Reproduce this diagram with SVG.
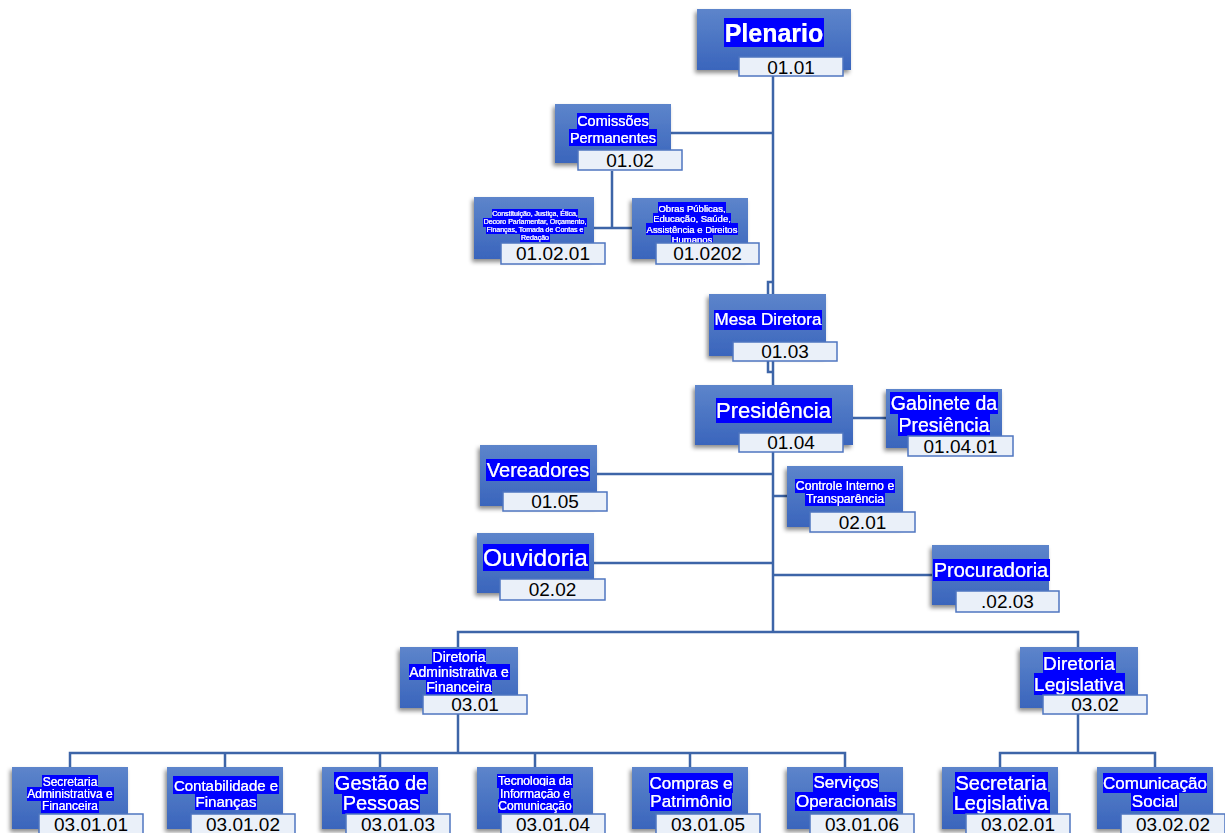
<svg xmlns="http://www.w3.org/2000/svg" width="1225" height="833" viewBox="0 0 1225 833">
<defs>
<linearGradient id="g" x1="0" y1="0" x2="0" y2="1">
<stop offset="0" stop-color="#5d85cb"/>
<stop offset="1" stop-color="#3a65bc"/>
</linearGradient>
<filter id="sh" x="-20%" y="-20%" width="140%" height="150%">
<feDropShadow dx="-2" dy="3" stdDeviation="2" flood-color="#000" flood-opacity="0.45"/>
</filter>
<filter id="hl" x="0" y="0" width="1" height="1">
<feFlood flood-color="#0000ff" result="bg"/>
<feMerge><feMergeNode in="bg"/><feMergeNode in="SourceGraphic"/></feMerge>
</filter>
</defs>
<style>
.box{fill:url(#g);filter:url(#sh)}
.lbl{fill:#eaf0f9;stroke:#4f76c0;stroke-width:1.5}
.t{fill:#fff;font-family:"Liberation Sans",Arial,sans-serif;text-anchor:middle;filter:url(#hl)}
.n{fill:#000;font-family:"Liberation Sans",Arial,sans-serif;font-size:19px;text-anchor:middle}
.c{fill:none;stroke:#3d65a8;stroke-width:2.5}
</style>
<rect width="1225" height="833" fill="#fff"/>
<g id="connectors" class="c">
<path d="M773,76 V294"/>
<path d="M773,282 H768 V294"/>
<path d="M671,133 H773"/>
<path d="M612,171 V228 M594,228 H632"/>
<path d="M773,361 V385"/>
<path d="M768,361 V372 H773"/>
<path d="M853,418 H886"/>
<path d="M773,452 V632"/>
<path d="M597,474 H773"/>
<path d="M773,496 H787"/>
<path d="M594,563 H773"/>
<path d="M773,575 H932"/>
<path d="M458,647 V632 H1078 V647"/>
<path d="M458,714 V753"/>
<path d="M70,767 V753 H845 V767 M225,753 V767 M380,753 V767 M535,753 V767 M690,753 V767"/>
<path d="M1078,714 V753 M1000,767 V753 H1155 V767"/>
</g>
<g id="n-plenario">
<rect class="box" x="697" y="9" width="154" height="61"/>
<text class="t" x="774" y="41.5" font-size="25" font-weight="bold">Plenario</text>
<rect class="lbl" x="739" y="57" width="104" height="19"/>
<text class="n" x="791" y="74">01.01</text>
</g>
<g id="n-comissoes">
<rect class="box" x="555" y="104" width="116" height="59"/>
<text class="t" x="613" y="126" font-size="14.5">Comissões</text>
<text class="t" x="613" y="142.5" font-size="14.5">Permanentes</text>
<rect class="lbl" x="578" y="150" width="104" height="20"/>
<text class="n" x="630" y="167">01.02</text>
</g>
<g id="n-constituicao">
<rect class="box" x="474" y="197" width="120" height="62"/>
<text class="t" x="535" y="216.3" font-size="7">Constituição, Justiça, Ética,</text>
<text class="t" x="535" y="224.1" font-size="7">Decoro Parlamentar, Orçamento,</text>
<text class="t" x="535" y="231.9" font-size="7">Finanças, Tomada de Contas e</text>
<text class="t" x="535" y="239.7" font-size="7">Redação</text>
<rect class="lbl" x="501" y="243" width="104" height="21"/>
<text class="n" x="553" y="260">01.02.01</text>
</g>
<g id="n-obras">
<rect class="box" x="632" y="198" width="116" height="61"/>
<text class="t" x="692" y="211.9" font-size="9.5">Obras Públicas,</text>
<text class="t" x="692" y="222.4" font-size="9.5">Educação, Saúde,</text>
<text class="t" x="692" y="232.9" font-size="9.5">Assistência e Direitos</text>
<text class="t" x="692" y="242.6" font-size="9.5">Humanos</text>
<rect class="lbl" x="656" y="243" width="103" height="21"/>
<text class="n" x="707.5" y="260">01.0202</text>
</g>
<g id="n-mesa">
<rect class="box" x="709" y="294" width="117" height="62"/>
<text class="t" x="768" y="325.4" font-size="17">Mesa Diretora</text>
<rect class="lbl" x="733" y="342" width="104" height="19"/>
<text class="n" x="785" y="358">01.03</text>
</g>
<g id="n-presidencia">
<rect class="box" x="695" y="385" width="158" height="60"/>
<text class="t" x="773.5" y="418" font-size="22">Presidência</text>
<rect class="lbl" x="739" y="433" width="104" height="19"/>
<text class="n" x="791" y="449">01.04</text>
</g>
<g id="n-gabinete">
<rect class="box" x="886" y="389" width="116" height="59"/>
<text class="t" x="944" y="410" font-size="19.5">Gabinete da</text>
<text class="t" x="944" y="432" font-size="19.5">Presiência</text>
<rect class="lbl" x="908" y="436" width="105" height="20"/>
<text class="n" x="960.5" y="453">01.04.01</text>
</g>
<g id="n-vereadores">
<rect class="box" x="480" y="445" width="117" height="61"/>
<text class="t" x="538" y="477" font-size="20">Vereadores</text>
<rect class="lbl" x="503" y="492" width="104" height="19"/>
<text class="n" x="555" y="508">01.05</text>
</g>
<g id="n-controle">
<rect class="box" x="787" y="466" width="116" height="61"/>
<text class="t" x="845" y="490" font-size="12.3">Controle Interno e</text>
<text class="t" x="845" y="502.5" font-size="12.3">Transparência</text>
<rect class="lbl" x="810" y="512" width="105" height="20"/>
<text class="n" x="862.5" y="529">02.01</text>
</g>
<g id="n-ouvidoria">
<rect class="box" x="477" y="533" width="117" height="60"/>
<text class="t" x="535.5" y="566" font-size="24.5">Ouvidoria</text>
<rect class="lbl" x="500" y="579" width="105" height="21"/>
<text class="n" x="552.5" y="596">02.02</text>
</g>
<g id="n-procuradoria">
<rect class="box" x="932" y="545" width="117" height="60"/>
<text class="t" x="991" y="577" font-size="20">Procuradoria</text>
<rect class="lbl" x="956" y="591" width="103" height="21"/>
<text class="n" x="1007.5" y="608">.02.03</text>
</g>
<g id="n-dir-adm">
<rect class="box" x="400" y="647" width="118" height="61"/>
<text class="t" x="459" y="662" font-size="14">Diretoria</text>
<text class="t" x="459" y="677" font-size="14">Administrativa e</text>
<text class="t" x="459" y="691.5" font-size="14">Financeira</text>
<rect class="lbl" x="423" y="695" width="104" height="19"/>
<text class="n" x="475" y="711">03.01</text>
</g>
<g id="n-dir-leg">
<rect class="box" x="1020" y="647" width="118" height="61"/>
<text class="t" x="1079" y="669.5" font-size="19">Diretoria</text>
<text class="t" x="1079" y="690.5" font-size="19">Legislativa</text>
<rect class="lbl" x="1043" y="695" width="104" height="19"/>
<text class="n" x="1095" y="711">03.02</text>
</g>
<g id="n-sec-adm">
<rect class="box" x="12" y="767" width="116" height="62"/>
<text class="t" x="70" y="786" font-size="12">Secretaria</text>
<text class="t" x="70" y="798" font-size="12">Administrativa e</text>
<text class="t" x="70" y="810" font-size="12">Financeira</text>
<rect class="lbl" x="39" y="814" width="104" height="20"/>
<text class="n" x="91" y="831">03.01.01</text>
</g>
<g id="n-contabilidade">
<rect class="box" x="167" y="767" width="116" height="62"/>
<text class="t" x="226" y="790.5" font-size="15">Contabilidade e</text>
<text class="t" x="226" y="806.5" font-size="15">Finanças</text>
<rect class="lbl" x="191" y="814" width="104" height="20"/>
<text class="n" x="243" y="831">03.01.02</text>
</g>
<g id="n-gestao">
<rect class="box" x="322" y="767" width="116" height="62"/>
<text class="t" x="381" y="790" font-size="20">Gestão de</text>
<text class="t" x="381" y="810" font-size="20">Pessoas</text>
<rect class="lbl" x="346" y="814" width="104" height="20"/>
<text class="n" x="398" y="831">03.01.03</text>
</g>
<g id="n-tecnologia">
<rect class="box" x="477" y="767" width="116" height="62"/>
<text class="t" x="535" y="785" font-size="12">Tecnologia da</text>
<text class="t" x="535" y="797.5" font-size="12">Informação e</text>
<text class="t" x="535" y="810" font-size="12">Comunicação</text>
<rect class="lbl" x="501" y="814" width="104" height="20"/>
<text class="n" x="553" y="831">03.01.04</text>
</g>
<g id="n-compras">
<rect class="box" x="632" y="767" width="116" height="62"/>
<text class="t" x="691" y="788.5" font-size="17">Compras e</text>
<text class="t" x="691" y="806.5" font-size="17">Patrimônio</text>
<rect class="lbl" x="656" y="814" width="104" height="20"/>
<text class="n" x="708" y="831">03.01.05</text>
</g>
<g id="n-servicos">
<rect class="box" x="787" y="767" width="116" height="62"/>
<text class="t" x="846" y="788" font-size="17">Serviços</text>
<text class="t" x="846" y="807" font-size="17">Operacionais</text>
<rect class="lbl" x="810" y="814" width="104" height="20"/>
<text class="n" x="862" y="831">03.01.06</text>
</g>
<g id="n-sec-leg">
<rect class="box" x="942" y="767" width="116" height="62"/>
<text class="t" x="1001" y="790" font-size="20">Secretaria</text>
<text class="t" x="1001" y="810" font-size="20">Legislativa</text>
<rect class="lbl" x="966" y="814" width="104" height="20"/>
<text class="n" x="1018" y="831">03.02.01</text>
</g>
<g id="n-comunicacao">
<rect class="box" x="1097" y="767" width="116" height="62"/>
<text class="t" x="1155" y="788.5" font-size="17">Comunicação</text>
<text class="t" x="1155" y="806.5" font-size="17">Social</text>
<rect class="lbl" x="1121" y="814" width="104" height="20"/>
<text class="n" x="1173" y="831">03.02.02</text>
</g>
</svg>
